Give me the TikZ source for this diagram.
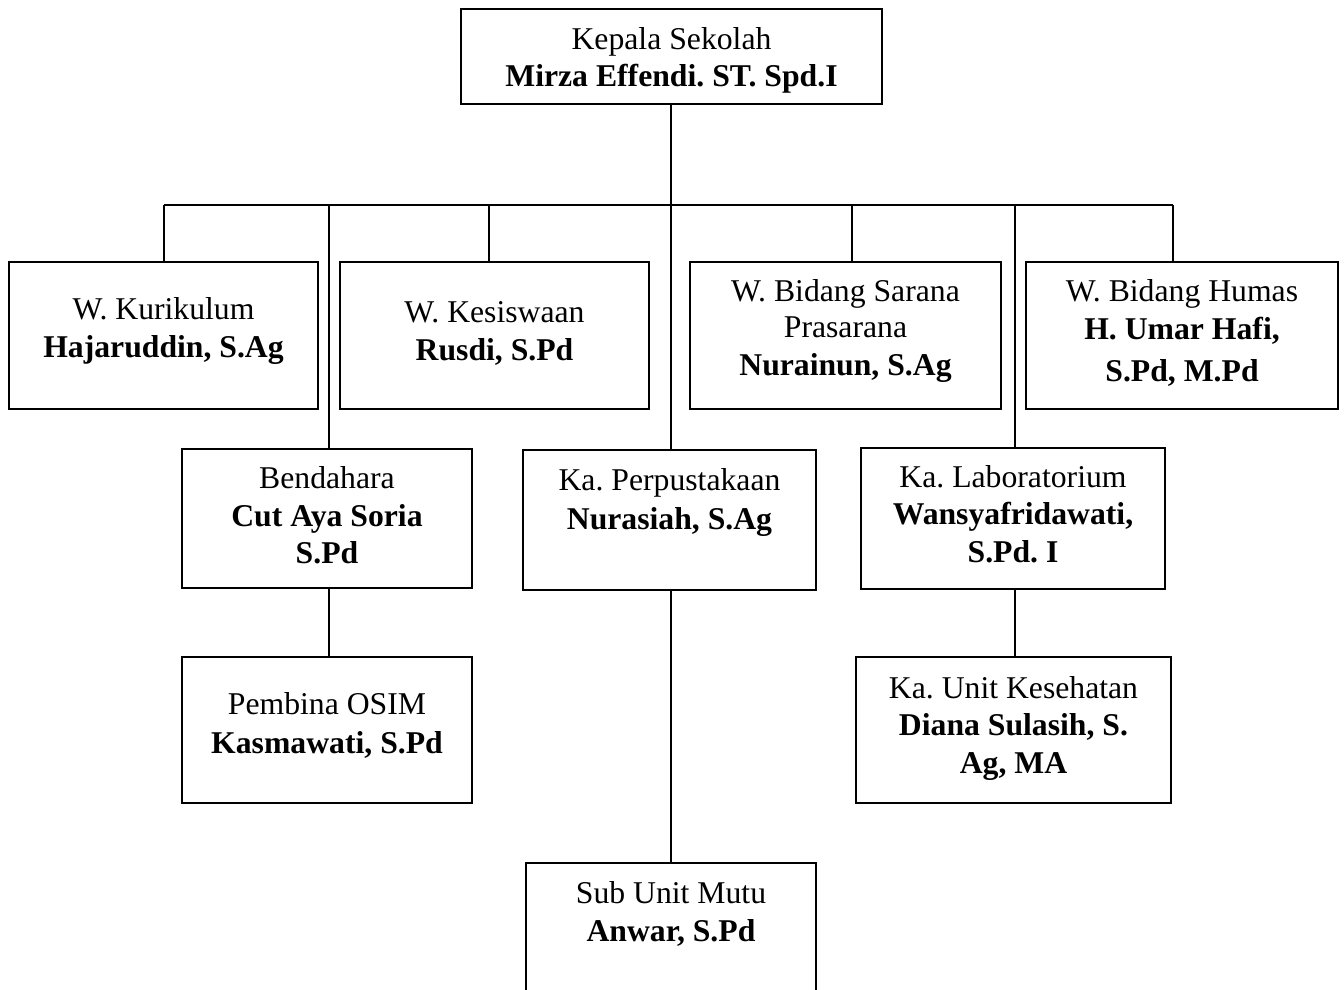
\documentclass[tikz,border=0pt]{standalone}
\usepackage{fontspec}
\setmainfont{Liberation Serif}
\frenchspacing
\tikzset{
  box/.style={draw, line width=2pt, inner sep=0pt, rectangle},
  lbl/.style={anchor=base, inner sep=0pt, font=\fontsize{31.7}{38}\selectfont\frenchspacing},
  lblb/.style={lbl, font=\fontsize{31.7}{38}\selectfont\frenchspacing\bfseries},
  con/.style={line width=2pt}
}
\begin{document}
\begin{tikzpicture}[x=1pt,y=-1pt]
\clip (0,0) rectangle (1344,990);
\fill[white] (0,0) rectangle (1344,990);
% boxes
\node[box, minimum width=421pt, minimum height=95pt] (top) at (671.5,56.5) {};
\node[box, minimum width=309pt, minimum height=147pt] (kur) at (163.5,335.5) {};
\node[box, minimum width=309pt, minimum height=147pt] (kes) at (494.5,335.5) {};
\node[box, minimum width=311pt, minimum height=147pt] (sar) at (845.5,335.5) {};
\node[box, minimum width=312pt, minimum height=147pt] (hum) at (1182,335.5) {};
\node[box, minimum width=290pt, minimum height=139pt] (ben) at (327,518.5) {};
\node[box, minimum width=293pt, minimum height=140pt] (per) at (669.5,520) {};
\node[box, minimum width=304pt, minimum height=141pt] (lab) at (1013,518.5) {};
\node[box, minimum width=290pt, minimum height=146pt] (pem) at (327,730) {};
\node[box, minimum width=315pt, minimum height=146pt] (ksh) at (1013.5,730) {};
\node[box, minimum width=290pt, minimum height=147pt] (sub) at (671,936.5) {};
% texts
\node[lbl]  (t1) at (671.5,49) {Kepala Sekolah};
\node[lblb] (t2) at (671.5,87) {Mirza Effendi. ST. Spd.I};
\node[lbl]  (k1) at (163.5,319) {W. Kurikulum};
\node[lblb] (k2) at (163.5,357) {Hajaruddin, S.Ag};
\node[lbl]  (s1) at (494.5,322) {W. Kesiswaan};
\node[lblb] (s2) at (494.5,360) {Rusdi, S.Pd};
\node[lbl]  (r1) at (845.5,301) {W. Bidang Sarana};
\node[lbl]  (r2) at (845.5,337) {Prasarana};
\node[lblb] (r3) at (845.5,375) {Nurainun, S.Ag};
\node[lbl]  (h1) at (1182,301) {W. Bidang Humas};
\node[lblb] (h2) at (1182,339) {H. Umar Hafi,};
\node[lblb] (h3) at (1182,381) {S.Pd, M.Pd};
\node[lbl]  (b1) at (327,488) {Bendahara};
\node[lblb] (b2) at (327,526) {Cut Aya Soria};
\node[lblb] (b3) at (327,563) {S.Pd};
\node[lbl]  (p1) at (669.5,490) {Ka. Perpustakaan};
\node[lblb] (p2) at (669.5,529) {Nurasiah, S.Ag};
\node[lbl]  (l1) at (1013,487) {Ka. Laboratorium};
\node[lblb] (l2) at (1013,524) {Wansyafridawati,};
\node[lblb] (l3) at (1013,562) {S.Pd. I};
\node[lbl]  (o1) at (327,714) {Pembina OSIM};
\node[lblb] (o2) at (327,753) {Kasmawati, S.Pd};
\node[lbl]  (e1) at (1013.5,698) {Ka. Unit Kesehatan};
\node[lblb] (e2) at (1013.5,735) {Diana Sulasih, S.};
\node[lblb] (e3) at (1013.5,773) {Ag, MA};
\node[lbl]  (u1) at (671,903) {Sub Unit Mutu};
\node[lblb] (u2) at (671,941) {Anwar, S.Pd};
% connector points
\coordinate (dkur) at (164,205);
\coordinate (dben) at (329,205);
\coordinate (dkes) at (489,205);
\coordinate (dper) at (671,205);
\coordinate (dsar) at (852,205);
\coordinate (dlab) at (1015,205);
\coordinate (dhum) at (1173,205);
% connectors
\draw[con] (top.south -| dper) -- (dper);
\draw[con] (dkur) -- (dhum);
\draw[con] (dkur) -- (dkur |- kur.north);
\draw[con] (dkes) -- (dkes |- kes.north);
\draw[con] (dsar) -- (dsar |- sar.north);
\draw[con] (dhum) -- (dhum |- hum.north);
\draw[con] (dben) -- (dben |- ben.north);
\draw[con] (dper) -- (dper |- per.north);
\draw[con] (dlab) -- (dlab |- lab.north);
\draw[con] (ben.south -| dben) -- (dben |- pem.north);
\draw[con] (lab.south -| dlab) -- (dlab |- ksh.north);
\draw[con] (per.south -| dper) -- (dper |- sub.north);
\end{tikzpicture}
\end{document}
